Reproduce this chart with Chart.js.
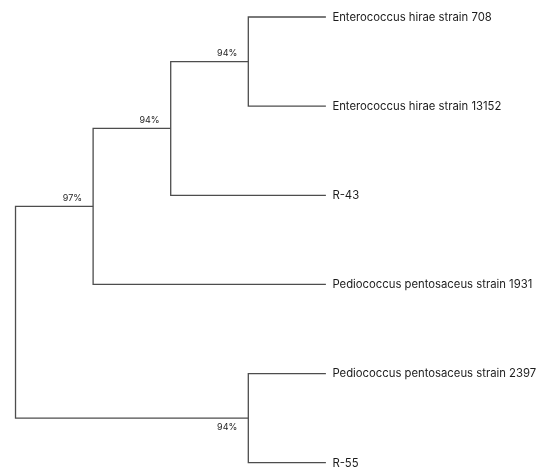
<!DOCTYPE html>
<html>
<head>
<meta charset="utf-8">
<script src="https://cdn.jsdelivr.net/npm/chart.js@4/dist/chart.umd.min.js"></script>
<style>
  html, body { margin: 0; padding: 0; background: #ffffff; }
  #wrap { width: 542px; height: 469px; position: relative; }
</style>
</head>
<body>
<div id="wrap"><canvas id="tree"></canvas></div>
<script>
// Tips of the tree, top to bottom
const leafLabels = [
  'Enterococcus hirae strain 708',
  'Enterococcus hirae strain 13152',
  'R-43',
  'Pediococcus pentosaceus strain 1931',
  'Pediococcus pentosaceus strain 2397',
  'R-55'
];
const leafDepth = [4, 4, 4, 4, 4, 4];

// Internal clades: each joins a left and a right child (tip label or clade name)
const cladeNames   = ['c1', 'c2', 'c3', 'c4', 'root'];
const cladeDepth   = [3, 2, 1, 3, 0];
const cladeLeft    = ['Enterococcus hirae strain 708', 'c1', 'c2', 'Pediococcus pentosaceus strain 2397', 'c3'];
const cladeRight   = ['Enterococcus hirae strain 13152', 'R-43', 'Pediococcus pentosaceus strain 1931', 'R-55', 'c4'];
const cladeSupport = ['94%', '94%', '97%', '94%', ''];
const supportSide  = ['above', 'above', 'above', 'below', ''];

// Resolve positions: tips by their order, clades at the middle of their children
const pos = {};
leafLabels.forEach((name, i) => { pos[name] = { x: leafDepth[i], y: i }; });
cladeNames.forEach((name, i) => {
  const a = pos[cladeLeft[i]], b = pos[cladeRight[i]];
  pos[name] = { x: cladeDepth[i], y: (a.y + b.y) / 2 };
});

const branchColor = '#4d4d4d';
const datasets = cladeNames.map((name, i) => {
  const node = pos[name], a = pos[cladeLeft[i]], b = pos[cladeRight[i]];
  return {
    label: name,
    data: [
      { x: a.x, y: a.y },
      { x: node.x, y: a.y },
      { x: node.x, y: b.y },
      { x: b.x, y: b.y }
    ],
    showLine: true,
    borderColor: branchColor,
    borderWidth: 1.3,
    pointRadius: 0,
    pointHoverRadius: 0,
    tension: 0,
    fill: false,
    clip: false
  };
});

// Tip names and bootstrap support values
const treeLabels = {
  id: 'treeLabels',
  afterDatasetsDraw(chart) {
    const { ctx, scales: { x, y } } = chart;
    ctx.save();
    ctx.fillStyle = '#1c1c1c';
    ctx.font = '11.3px Inter, "Open Sans", sans-serif';
    ctx.textAlign = 'left';
    ctx.textBaseline = 'middle';
    leafLabels.forEach((name) => {
      const p = pos[name];
      ctx.fillText(name, x.getPixelForValue(p.x) + 6.5, y.getPixelForValue(p.y) + 0.5);
    });
    ctx.font = '9px Inter, "Open Sans", sans-serif';
    ctx.fillStyle = '#262626';
    ctx.textAlign = 'right';
    cladeNames.forEach((name, i) => {
      if (!cladeSupport[i]) return;
      const p = pos[name];
      const px = x.getPixelForValue(p.x) - 11;
      const py = y.getPixelForValue(p.y) + (supportSide[i] === 'above' ? -8 : 9.5);
      ctx.fillText(cladeSupport[i], px, py);
    });
    ctx.restore();
  }
};

new Chart(document.getElementById('tree'), {
  type: 'scatter',
  data: { datasets },
  options: {
    responsive: true,
    maintainAspectRatio: false,
    animation: false,
    layout: { padding: 0 },
    plugins: { legend: { display: false }, tooltip: { enabled: false } },
    events: [],
    scales: {
      x: { type: 'linear', display: false, min: -0.2, max: 6.785 },
      y: { type: 'linear', display: false, reverse: true, min: -0.1907, max: 5.0707 }
    }
  },
  plugins: [treeLabels]
});
</script>
</body>
</html>
